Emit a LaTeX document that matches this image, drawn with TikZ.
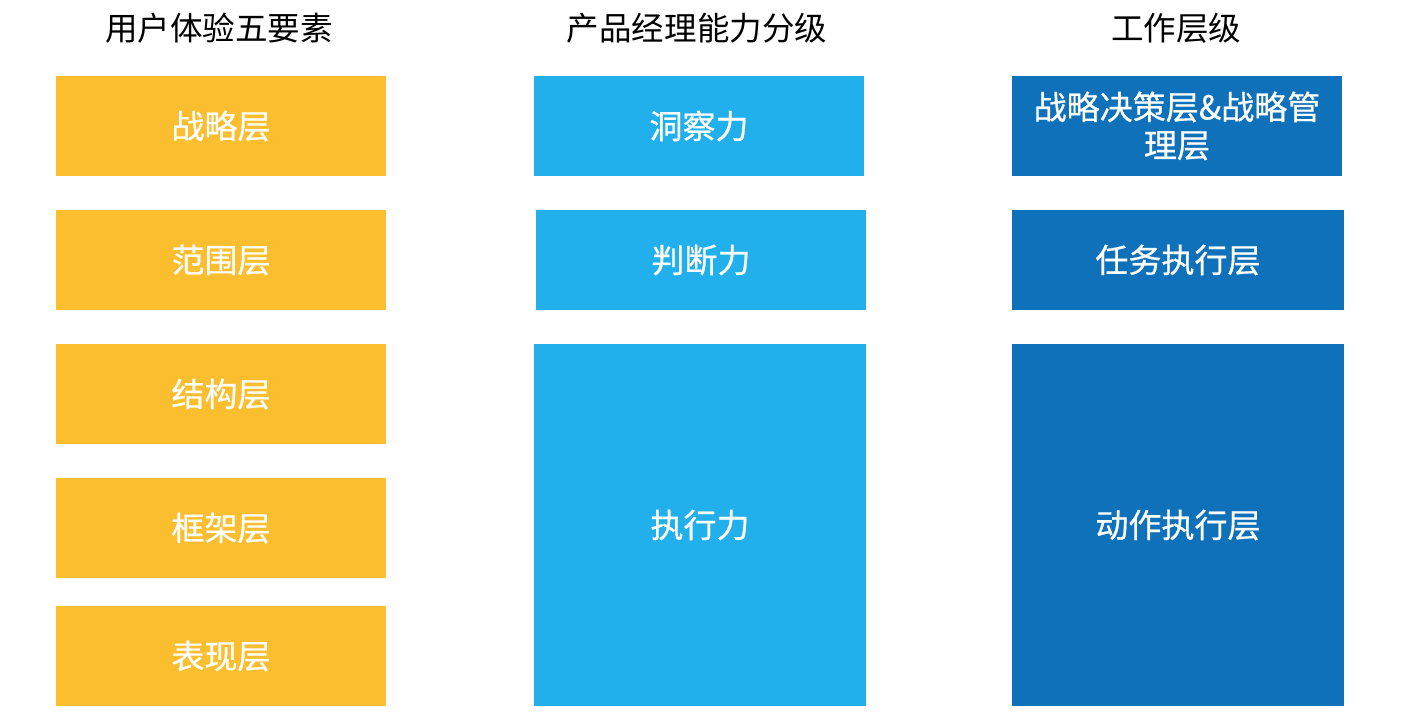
\documentclass[tikz,border=0pt]{standalone}
\usepackage{fontspec}
\setmainfont{Noto Sans CJK SC}
\newfontfamily\boxfont{Noto Sans CJK SC}[FakeBold=0.6]
\usetikzlibrary{positioning}
\definecolor{uxorange}{RGB}{251,190,46}
\definecolor{pmblue}{RGB}{33,176,236}
\definecolor{workblue}{RGB}{16,113,187}
\tikzset{
  layer/.style={minimum width=6.6cm, minimum height=2cm, inner sep=0pt, text=white,
    font=\boxfont\fontsize{18.8}{21.6}\selectfont, align=center},
  title/.style={font=\fontsize{18.5}{21}\selectfont, text=black}
}
\begin{document}
\begin{tikzpicture}[x=0.02cm, y=-0.02cm]
	\useasboundingbox (0,0) rectangle (1404,726);

	% column titles
	\node[title] (uxtitle) at (219,28) {用户体验五要素};
	\node[title] (pmtitle) at (697,28) {产品经理能力分级};
	\node[title] (worktitle) at (1176,28) {工作层级};

	% user experience layers
	\node[layer, fill=uxorange] (strategy) at (221,126) {战略层};
	\node[layer, fill=uxorange] (scope) at (221,260) {范围层};
	\node[layer, fill=uxorange] (structure) at (221,394) {结构层};
	\node[layer, fill=uxorange] (skeleton) at (221,528) {框架层};
	\node[layer, fill=uxorange] (surface) at (221,656) {表现层};

	% product manager abilities
	\node[layer, fill=pmblue] (insight) at (699,126) {洞察力};
	\node[layer, fill=pmblue] (judge) at (701,260) {判断力};
	\node[layer, fill=pmblue, minimum width=6.64cm, minimum height=7.24cm] (execute) at (700,525) {执行力};

	% work levels
	\node[layer, fill=workblue] (decision) at (1177,126) {战略决策层\&战略管\\理层};
	\node[layer, fill=workblue, minimum width=6.64cm] (task) at (1178,260) {任务执行层};
	\node[layer, fill=workblue, minimum width=6.64cm, minimum height=7.24cm] (action) at (1178,525) {动作执行层};
\end{tikzpicture}
\end{document}
